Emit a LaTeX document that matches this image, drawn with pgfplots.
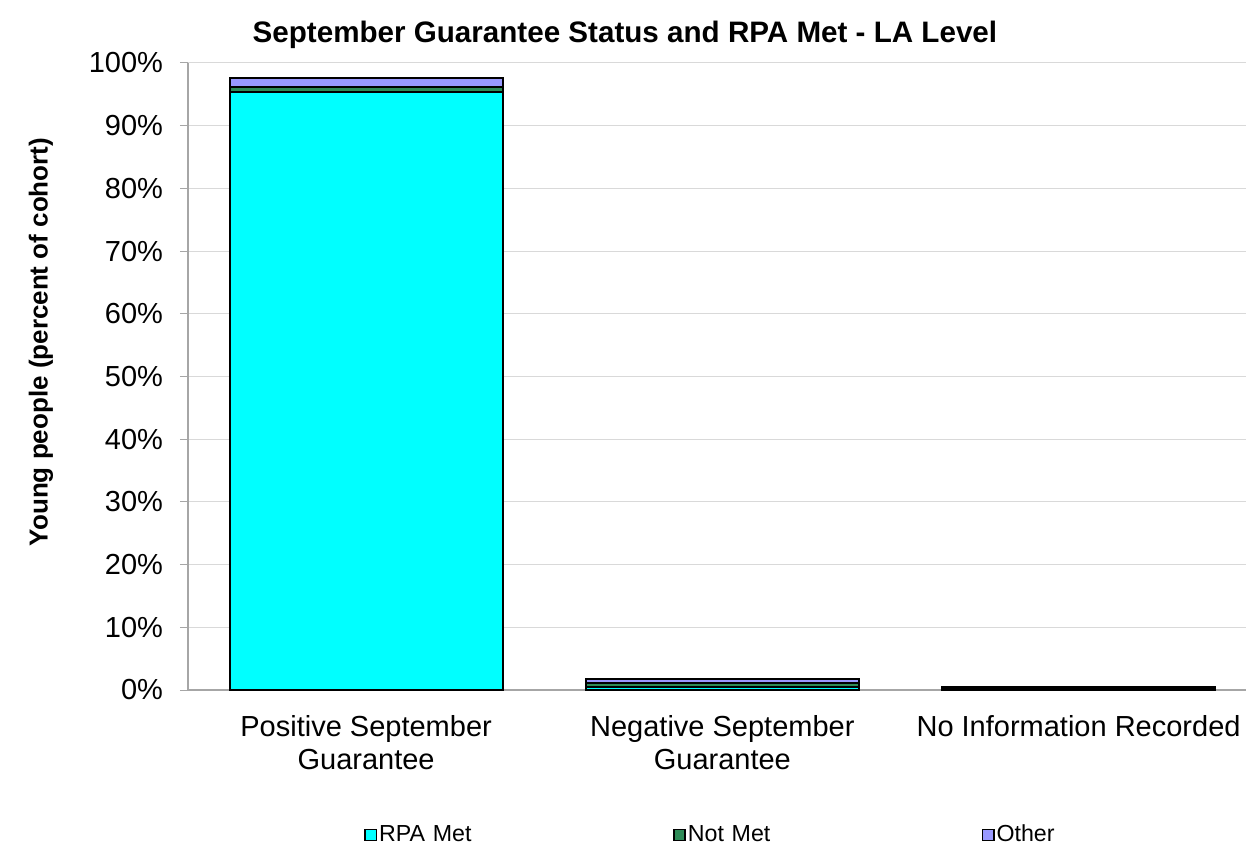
\documentclass[border=0pt]{standalone}
\usepackage{pgfplots}
\pgfplotsset{compat=1.18}
\usepackage{fontspec}
\setmainfont{Liberation Sans}
\definecolor{rpa}{HTML}{00FFFF}
\definecolor{notmet}{HTML}{2E8B57}
\definecolor{other}{HTML}{9999FF}
\definecolor{gridc}{HTML}{D9D9D9}
\definecolor{axc}{HTML}{A6A6A6}
\begin{document}
\begin{tikzpicture}
\begin{axis}[
  at={(94pt,77.5pt)}, anchor=south west,
  scale only axis, width=529pt, height=313.5pt,
  ybar stacked, bar width=136.5pt,
  xmin=-0.5, xmax=2.47, ymin=0, ymax=100,
  xtick={0,1,2},
  xticklabels={{Positive September\\Guarantee},{Negative September\\Guarantee},{No Information Recorded}},
  xticklabel style={align=center, font=\fontsize{14.5}{16.5}\selectfont, yshift=-5pt},
  major x tick style={draw=none},
  ytick={0,10,...,100},
  yticklabel={\pgfmathprintnumber{\tick}\%},
  yticklabel style={font=\fontsize{14.5}{16.5}\selectfont, xshift=-5pt},
  /pgf/number format/assume math mode=true,
  ymajorgrids, grid style={gridc, line width=0.5pt},
  axis x line*=bottom, axis y line*=left,
  axis line style={axc, line width=1pt, -},
  major y tick style={axc, line width=0.5pt},
  tick align=outside, major tick length=4pt,
  title={\bfseries September Guarantee Status and RPA Met - LA Level},
  title style={font=\fontsize{14.8}{16}\selectfont, at={(axis description cs:0.413,1)}, anchor=center, yshift=8pt},
  ylabel={\bfseries Young people (percent of cohort)},
  ylabel style={font=\fontsize{13}{15}\selectfont, at={(axis description cs:-0.1390,0.555)}, anchor=center},
  legend columns=3,
  legend style={draw=none, fill=none, inner sep=0pt, at={(axis description cs:0.1664,-0.2313)}, anchor=west,
    font=\fontsize{11.6}{13}\selectfont,
    nodes={text width=146pt, inner xsep=1pt, align=left}},
  legend image code/.code={\draw[#1, line width=0.75pt] (0pt,-2.8pt) rectangle (5.6pt,2.8pt);},
]
\addplot[fill=rpa, draw=black, line width=1pt] coordinates {(0,95.3) (1,0.55) (2,0.15)};
\addplot[fill=notmet, draw=black, line width=1pt] coordinates {(0,0.8) (1,0.5) (2,0.1)};
\addplot[fill=other, draw=black, line width=1pt] coordinates {(0,1.5) (1,0.7) (2,0.15)};
\legend{RPA Met, Not Met, Other}
\end{axis}
\pgfresetboundingbox
\path (0,0) rectangle (623pt,422.5pt);
\end{tikzpicture}
\end{document}
